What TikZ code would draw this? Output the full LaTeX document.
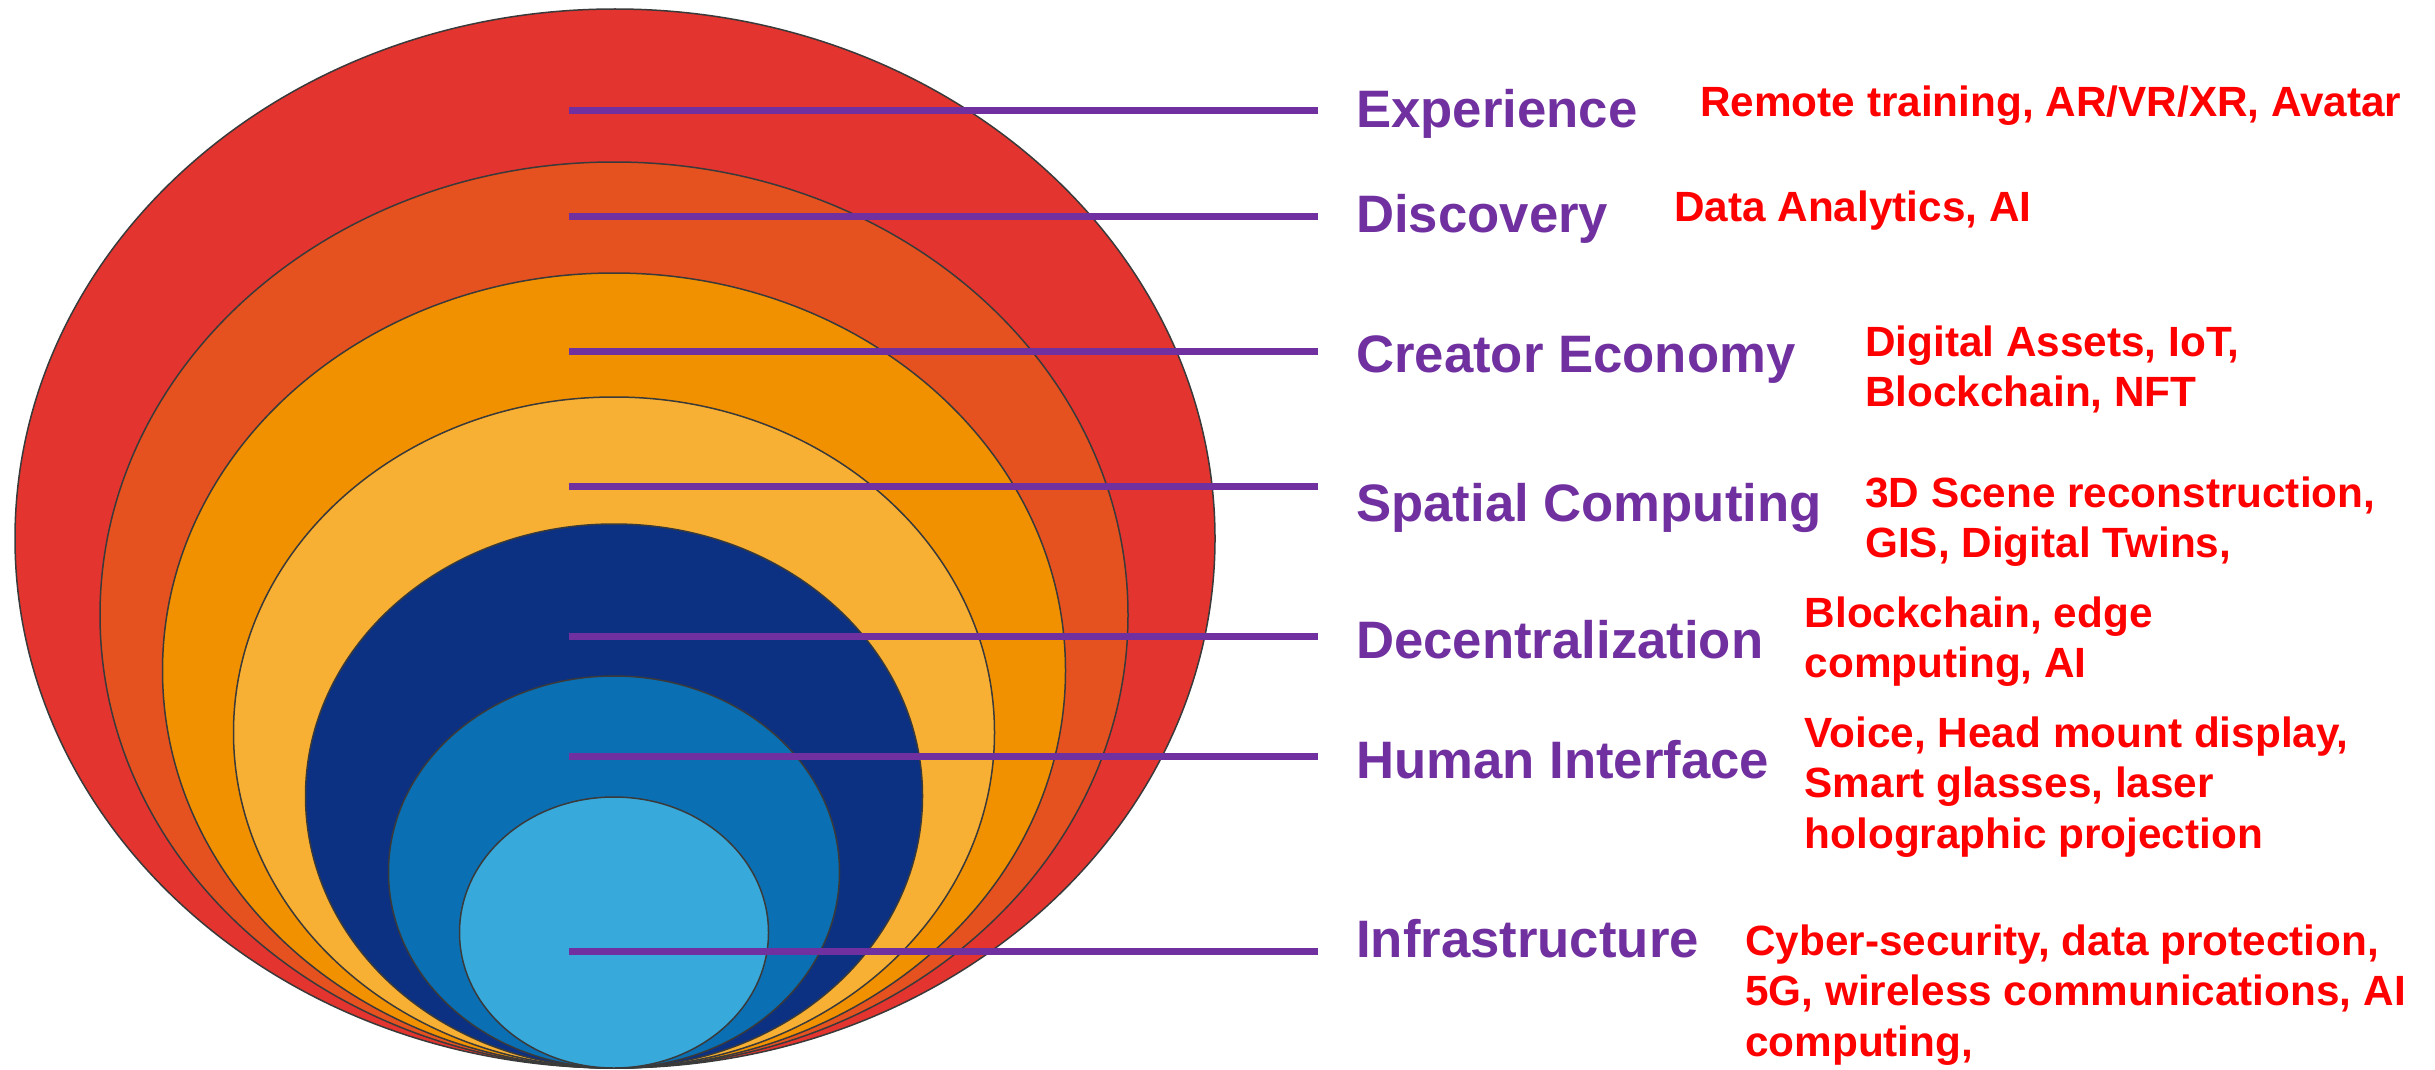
\documentclass[tikz,border=0pt]{standalone}
\usepackage{fontspec}
\setmainfont{Liberation Sans}
\definecolor{cRed}{HTML}{E3342F}
\definecolor{cDOrange}{HTML}{E55220}
\definecolor{cOrange}{HTML}{F29100}
\definecolor{cLOrange}{HTML}{F7B033}
\definecolor{cDBlue}{HTML}{0C3183}
\definecolor{cBlue}{HTML}{0B70B3}
\definecolor{cLBlue}{HTML}{37A9DB}
\definecolor{cPurple}{HTML}{7030A0}
\definecolor{cText}{HTML}{FF0000}
\definecolor{cEdge}{HTML}{3A3A3A}
\newcommand\techlines[1]{\begin{tabular}[t]{@{}l@{}}#1\end{tabular}}
\tikzset{
  ring/.style={draw=cEdge, line width=1.5pt},
  leader/.style={draw=cPurple, line width=7pt},
  layer/.style={anchor=base west, inner sep=0pt, text=cPurple,
    font=\fontsize{52.7}{63}\selectfont\bfseries},
  tech/.style={anchor=base west, inner sep=0pt, text=cText,
    font=\fontsize{42.3}{50.5}\selectfont\bfseries},
}
\begin{document}
\begin{tikzpicture}[x=1pt,y=-1pt]
\useasboundingbox (0,0) rectangle (2435,1070);
% nested ellipses, all touching at the bottom (y = 1068)
\fill[cRed,ring]     (615,538.5) ellipse [x radius=600pt, y radius=529.5pt];
\fill[cDOrange,ring] (614,615)   ellipse [x radius=514pt, y radius=453pt];
\fill[cOrange,ring]  (614,670.5) ellipse [x radius=451.5pt, y radius=397.5pt];
\fill[cLOrange,ring] (614,732.5) ellipse [x radius=380.5pt, y radius=335.5pt];
\fill[cDBlue,ring]   (614,796)   ellipse [x radius=308.5pt, y radius=272pt];
\fill[cBlue,ring]    (614,872)   ellipse [x radius=225.5pt, y radius=196pt];
\fill[cLBlue,ring]   (614,932.5) ellipse [x radius=154.5pt, y radius=135.5pt];
% leader start / end points
\coordinate (s1) at (569,111);  \coordinate (e1) at (1318,111);
\coordinate (s2) at (569,216);  \coordinate (e2) at (1318,216);
\coordinate (s3) at (569,351);  \coordinate (e3) at (1318,351);
\coordinate (s4) at (569,486);  \coordinate (e4) at (1318,486);
\coordinate (s5) at (569,636);  \coordinate (e5) at (1318,636);
\coordinate (s6) at (569,756);  \coordinate (e6) at (1318,756);
\coordinate (s7) at (569,951);  \coordinate (e7) at (1318,951);
\foreach \i in {1,...,7} \draw[leader] (s\i) -- (e\i);
% layer labels
\node[layer] (l1) at (1356,127.7) {Experience};
\node[layer] (l2) at (1356,232.7) {Discovery};
\node[layer] (l3) at (1356,372.7) {Creator Economy};
\node[layer] (l4) at (1356,521)   {Spatial Computing};
\node[layer] (l5) at (1356,658)   {Decentralization};
\node[layer] (l6) at (1356,778)   {Human Interface};
\node[layer] (l7) at (1356,957.5) {Infrastructure};
% technologies
\node[tech] (t1) at (1700,116.7) {Remote training, AR/VR/XR, Avatar};
\node[tech] (t2) at (1674,221.7) {Data Analytics, AI};
\node[tech] (t3) at (1865,356)   {\techlines{Digital Assets, IoT,\\Blockchain, NFT}};
\node[tech] (t4) at (1865,507)   {\techlines{3D Scene reconstruction,\\GIS, Digital Twins,}};
\node[tech] (t5) at (1804.5,627) {\techlines{Blockchain, edge\\computing, AI}};
\node[tech] (t6) at (1804.5,747) {\techlines{Voice, Head mount display,\\Smart glasses, laser\\holographic projection}};
\node[tech] (t7) at (1745,955)   {\techlines{Cyber-security, data protection,\\5G, wireless communications, AI\\computing,}};
\end{tikzpicture}
\end{document}
